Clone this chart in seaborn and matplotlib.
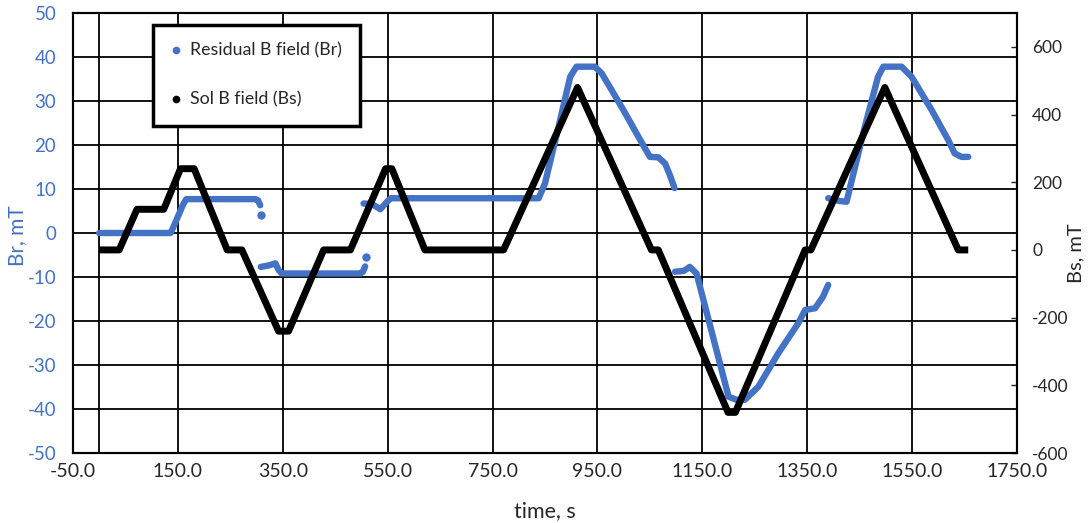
import numpy as np
import pandas as pd
import matplotlib
matplotlib.use('Agg')
import matplotlib.pyplot as plt
from matplotlib.lines import Line2D
import seaborn as sns

# solenoid field (Bs, right axis), breakpoints
bs_t = [0, 38, 72, 123, 155, 181, 244, 272, 342, 361, 428, 479, 546, 558, 621, 771,
        912, 1053, 1066, 1199, 1213, 1346, 1357, 1498, 1638, 1657]
bs_val = [0, 0, 120, 120, 240, 240, 0, 0, -240, -240, 0, 0, 240, 240, 0, 0,
          480, 0, 0, -480, -480, 0, 0, 480, 0, 0]

# residual field (Br, left axis), one list per measured run
br1_t = [0, 136, 142, 160, 166, 298, 303, 307]
br1_val = [0, 0, 1.5, 6.5, 7.7, 7.7, 7.4, 6.3]
br2_t = [308, 322, 336, 342, 348, 498, 503, 507]
br2_val = [-7.7, -7.4, -6.9, -8.4, -9.2, -9.2, -8.8, -7.6]
br3_t = [504, 520, 536, 548, 556, 838, 850, 876, 898, 910, 945, 958, 977, 1003,
         1028, 1050, 1066, 1079, 1088, 1097]
br3_val = [6.7, 6.6, 5.4, 7.0, 7.9, 7.9, 11.3, 24.2, 35.5, 37.8, 37.8, 36.3, 32.5,
           27.2, 21.9, 17.3, 17.2, 15.8, 13.2, 10.2]
br4_t = [1098, 1115, 1126, 1139, 1200, 1215, 1231, 1257, 1295, 1333, 1346, 1365,
         1380, 1390]
br4_val = [-8.8, -8.6, -7.7, -9.2, -37.2, -37.9, -37.9, -34.9, -27.3, -20.5, -17.5,
           -17.1, -14.5, -11.8]
br5_t = [1390, 1410, 1425, 1460, 1485, 1495, 1530, 1549, 1587, 1619, 1631, 1644, 1657]
br5_val = [7.9, 7.3, 7.1, 24.2, 35.5, 37.8, 37.8, 35.5, 28.0, 21.1, 18.1, 17.3, 17.3]
# single stray points at the end of two runs
dot_t = [308, 508]
dot_val = [4.2, -5.5]

x_ticks = [-50, 150, 350, 550, 750, 950, 1150, 1350, 1550, 1750]
br_ticks = [-50, -40, -30, -20, -10, 0, 10, 20, 30, 40, 50]
bs_ticks = [-600, -400, -200, 0, 200, 400, 600]

blue = '#4472C4'

sns.set_style('white')
plt.rcParams['font.family'] = ['Lato', 'DejaVu Sans']
plt.rcParams['axes.unicode_minus'] = False

runs = [(br1_t, br1_val), (br2_t, br2_val), (br3_t, br3_val), (br4_t, br4_val), (br5_t, br5_val)]
br_df = pd.concat([pd.DataFrame({'t': t, 'Br': v, 'run': i}) for i, (t, v) in enumerate(runs)])
bs_df = pd.DataFrame({'t': bs_t, 'Bs': bs_val})
dot_df = pd.DataFrame({'t': dot_t, 'Br': dot_val})

fig = plt.figure(figsize=(10.91, 5.23), dpi=100)
ax1 = fig.add_axes([73/1091, 70/523, 944/1091, 440/523])
ax2 = ax1.twinx()

sns.lineplot(data=br_df, x='t', y='Br', units='run', estimator=None, sort=False,
             color=blue, lw=4.6, solid_capstyle='round', solid_joinstyle='round', ax=ax1)
sns.scatterplot(data=dot_df, x='t', y='Br', color=blue, s=36, linewidth=0, ax=ax1)
sns.lineplot(data=bs_df, x='t', y='Bs', estimator=None, sort=False,
             color='black', lw=5, solid_capstyle='butt', ax=ax2)

ax1.set_xlim(-50, 1750)
ax1.set_ylim(-50, 50)
ax2.set_ylim(-600, 700)
ax1.set_xticks(x_ticks)
ax1.set_xticklabels(['%.1f' % v for v in x_ticks])
ax1.set_yticks(br_ticks)
ax2.set_yticks(bs_ticks)

ax1.grid(True, color='black', lw=1.3)
ax1.axvline(0, color='black', lw=1.3, zorder=0.5)
for ax in (ax1, ax2):
    for s in ax.spines.values():
        s.set_color('black')
        s.set_linewidth(1.5)

ax1.tick_params(axis='y', length=0, pad=12, labelsize=13.5, labelcolor=blue)
ax1.tick_params(axis='x', length=0, pad=7, labelsize=14)
ax2.tick_params(axis='y', direction='in', length=4, width=1, pad=11, labelsize=12.5)

ax1.set_xlabel('time, s', fontsize=15.5)
ax1.set_ylabel('Br, mT', fontsize=15, color=blue)
ax2.set_ylabel('Bs, mT', fontsize=14.5)
ax1.xaxis.set_label_coords(0.5, -0.11)
ax1.yaxis.set_label_coords(-0.049, 0.495)
ax2.yaxis.set_label_coords(1.053, 0.455)

handles = [Line2D([], [], ls='none', marker='o', ms=4.5, color=blue),
           Line2D([], [], ls='none', marker='o', ms=4.5, color='black')]
leg = ax2.legend(handles, ['Residual B field (Br)', 'Sol B field (Bs)'],
                 loc='upper left', bbox_to_anchor=(153/1091, 1 - 25/523),
                 bbox_transform=fig.transFigure, fontsize=12.8, frameon=True,
                 fancybox=False, borderpad=1.0, labelspacing=1.85,
                 handlelength=0.6, handletextpad=0.5, borderaxespad=0)
leg.get_frame().set_edgecolor('black')
leg.get_frame().set_linewidth(2.5)
leg.get_frame().set_alpha(1)

fig.savefig('out.png', dpi=100)
